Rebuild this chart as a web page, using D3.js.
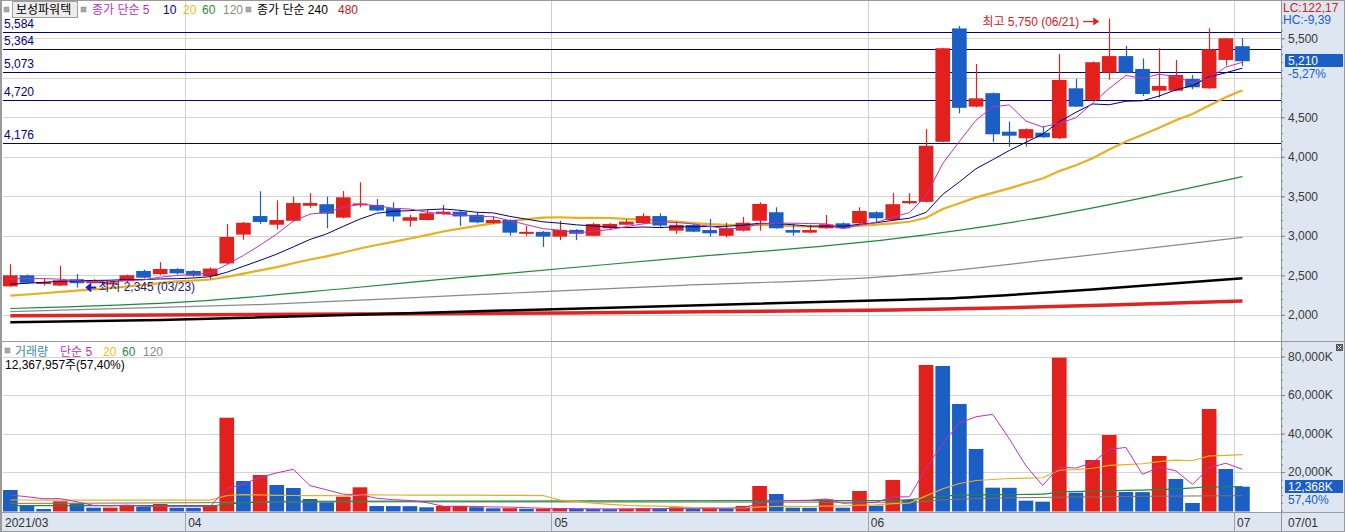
<!DOCTYPE html>
<html><head><meta charset="utf-8">
<script src="https://cdn.jsdelivr.net/npm/d3@7"></script>
<style>
html,body{margin:0;padding:0;background:#fff;overflow:hidden;}
svg{display:block;}
text{font-family:"Liberation Sans","Noto Sans CJK KR",sans-serif;font-size:12px;}
</style></head><body>
<svg id="c" width="1345" height="532"></svg>
<script>
// ---------------- DATA ----------------
const dates = [
"03/17","03/18","03/19","03/22","03/23","03/24","03/25","03/26","03/29","03/30","03/31",
"04/01","04/02","04/05","04/06","04/07","04/08","04/09","04/12","04/13","04/14","04/15","04/16","04/19","04/20","04/21","04/22","04/23","04/26","04/27","04/28","04/29","04/30",
"05/03","05/04","05/06","05/07","05/10","05/11","05/12","05/13","05/14","05/17","05/18","05/20","05/21","05/24","05/25","05/26","05/27","05/28","05/31",
"06/01","06/02","06/03","06/04","06/07","06/08","06/09","06/10","06/11","06/14","06/15","06/16","06/17","06/18","06/21","06/22","06/23","06/24","06/25","06/28","06/29","06/30",
"07/01"];
const opens = [2360,2500,2400,2370,2450,2420,2400,2425,2555,2515,2580,
2555,2490,2650,3015,3250,3140,3190,3380,3400,3230,3395,3390,3350,3190,3200,3275,3305,3265,3160,3200,3025,3050,
2990,3075,3000,3095,3140,3160,3250,3065,3137,3073,3000,3065,3190,3298,3073,3040,3095,3158,3158,
3298,3200,3412,3430,4190,5625,4635,4805,4318,4235,4305,4235,4867,4720,5065,5275,5112,4837,4837,4985,4867,5226,
5400];
const highs = [2640,2510,2460,2620,2515,2450,2430,2510,2570,2665,2590,
2565,2600,3150,3175,3565,3450,3495,3540,3495,3567,3677,3465,3425,3265,3330,3390,3315,3300,3250,3210,3128,3060,
3190,3085,3165,3160,3210,3285,3285,3180,3150,3213,3165,3240,3425,3360,3158,3140,3263,3170,3360,
3310,3545,3540,4350,5380,5655,5175,4815,4445,4360,4390,5300,4985,5205,5750,5405,5245,5374,5226,5036,5627,5505,
5500];
const lows = [2355,2395,2370,2365,2345,2400,2385,2410,2460,2505,2510,
2480,2450,2640,2950,3150,3080,3180,3355,3095,3220,3360,3310,3180,3115,3195,3265,3125,3160,3150,3000,3000,2860,
2945,2945,2995,3080,3130,3145,3095,3023,3045,2990,2980,3055,3065,3090,3000,3035,3090,3090,3150,
3160,3190,3400,3420,4185,4550,4625,4190,4128,4130,4240,4225,4630,4710,4975,5055,4770,4750,4830,4855,4860,5155,
5150];
const closes = [2500,2405,2415,2437,2400,2425,2410,2500,2470,2580,2525,
2495,2585,2985,3165,3175,3200,3415,3415,3280,3487,3410,3320,3245,3235,3285,3305,3245,3170,3200,3040,3050,2990,
3075,3025,3150,3150,3180,3250,3130,3137,3052,3032,3095,3165,3403,3095,3040,3073,3145,3095,3314,
3222,3400,3440,4140,5374,4620,4740,4285,4267,4350,4247,4973,4635,5197,5275,5065,4795,4897,5036,4880,5361,5500,
5210];
// volume in thousand shares
const volumes = [10650,2500,780,4780,3740,1450,1500,2500,1970,3380,1450,
1400,2500,48200,15330,18440,13250,11700,5970,4260,7170,12050,2340,2300,2250,1660,2340,2400,1700,1140,1200,900,950,
1000,800,750,700,900,1150,1100,1650,900,1150,950,2400,12730,8570,1460,1400,5800,1450,10130,
2500,15850,5450,75600,75070,55330,31950,11850,11800,5100,4590,79400,9260,26230,39220,9610,9550,28310,16360,3900,52730,21560,
12368];
// price moving averages
const ma5 = [2454,2459,2458,2451,2431,2416,2417,2434,2441,2477,2497,2514,2531,2634,2751,2881,3022,3188,3274,3297,3359,3401,3382,3348,3339,3299,3278,3263,3248,3241,3192,3141,3090,3071,3036,3058,3078,3116,3151,3172,3169,3150,3120,3089,3096,3149,3158,3160,3155,3151,3090,3133,3170,3235,3294,3503,3915,4195,4463,4632,4657,4452,4378,4424,4494,4680,4865,5029,4993,5046,5014,4935,4994,5135,5197];
const ma10 = [2388,2399,2412,2424,2429,2435,2438,2446,2446,2454,2457,2466,2483,2538,2614,2689,2768,2860,2954,3024,3120,3212,3285,3311,3318,3329,3340,3323,3298,3290,3246,3210,3177,3160,3139,3125,3110,3103,3111,3104,3114,3114,3118,3120,3134,3159,3154,3140,3122,3124,3120,3146,3165,3195,3223,3296,3524,3682,3849,3963,4080,4184,4286,4444,4563,4669,4659,4703,4709,4770,4847,4900,5011,5064,5122];
const ma20 = [2242,2257,2273,2290,2306,2322,2338,2358,2377,2401,2422,2432,2447,2481,2521,2562,2603,2653,2700,2739,2788,2839,2884,2924,2966,3009,3054,3091,3126,3157,3183,3211,3231,3235,3228,3227,3225,3213,3205,3197,3180,3162,3147,3140,3136,3142,3132,3121,3117,3114,3117,3130,3141,3158,3178,3228,3339,3411,3486,3543,3600,3665,3726,3819,3893,3983,4092,4193,4279,4367,4464,4542,4649,4754,4842];
// long averages: [candle index, value] read at points along the line
const ma60Pts = [[0,2080],[11,2170],[20,2330],[27,2470],[40,2715],[53,2960],[61,3200],[74,3750]];
const ma120Pts = [[0,2040],[15,2130],[27,2245],[40,2370],[53,2490],[63,2710],[74,2981]];
const ma240Pts = [[0,1905],[9,1934],[27,2039],[53,2187],[56,2205],[60,2250],[65,2320],[70,2400],[74,2462]];
const ma480Pts = [[0,1989],[27,2015],[53,2061],[60,2090],[67,2130],[74,2175]];
// volume moving averages
const vma5 = [8050,7150,6106,6142,4490,2650,2450,2794,2232,2160,2160,2140,2140,11386,13776,17174,19544,21384,12938,10724,8470,8230,6358,5624,5222,4120,2178,2190,2070,1848,1756,1468,1178,1038,970,880,840,830,860,920,1100,1140,1190,1150,1410,3626,5160,5222,5312,5992,3736,4048,4256,7146,7076,21906,34894,45460,48680,49960,37200,23206,13058,22548,22030,24916,31740,32744,18774,22584,20610,13546,22170,24572,21384];
const vma20 = [5450,5450,5400,5400,5400,5400,5400,5400,5400,5400,5400,5400,5400,7700,8200,8100,7900,7800,7750,7788,7614,8091,8169,8045,7971,7981,8023,8018,8005,7893,7880,7855,7778,5418,4691,3807,3179,2639,2398,2240,1964,1407,1347,1280,1287,1841,2152,2105,2090,2323,2336,2797,2875,3617,3850,7592,11311,14032,15572,16110,16617,16827,16999,20922,21265,21940,23472,23880,24287,25413,26158,25847,28358,28644,28989];
const vma60Pts = [[0,2500],[12,2550],[13,3350],[17,4800],[35,4950],[53,5200],[55,6400],[57,8000],[62,8500],[63,9600],[66,10200],[70,11200],[72,12200],[74,12400]];
const vma120Pts = [[0,3700],[13,4100],[20,4500],[54,4300],[56,5500],[58,6200],[63,6900],[74,7700]];
// labels
const stockName = "보성파워텍";
const levelValues = [5584,5364,5073,4720,4176];
const priceTicks = [2000,2500,3000,3500,4000,4500,5500];
const priceGrid = [2000,2500,3000,3500,4000,4500,5000,5500];
const volTicks = [20000,40000,60000,80000];
const monthLabels = [["2021/03","03/17"],["04","04/01"],["05","05/03"],["06","06/01"],["07","07/01"]];
const highMark = {label:"최고 5,750 (06/21)", date:"06/21", value:5750};
const lowMark = {label:"최저 2,345 (03/23)", date:"03/23", value:2345};
const lastPrice = "5,210", lastPct = "-5,27%";
const lastVol = "12,368K", lastVolPct = "57,40%";
const volInfo = "12,367,957주(57,40%)";
const lcText = "LC:122,17", hcText = "HC:-9,39";
const lastDate = "07/01";

// ---------------- LAYOUT ----------------
const W = 1345, H = 532;
const plotL = 3, plotR = 1281;
const priceTop = 1, priceBot = 340;
const volTop = 343, volBot = 512;
const RED = "#e3211c", BLUE = "#1b5ec6", NAVY = "#000080";
const C5 = "#c030c0", C10 = "#000080", C20 = "#e8b020", C60 = "#1e8a3c", C120 = "#8a8a8a";
const svg = d3.select("#c");

const step = 16.65;
const X = d3.scaleBand().domain(dates).range([plotL, plotL + step * dates.length]).padding(0);
const bw = X.step() - 2;
const cx = d => X(d) + bw / 2;
const Y = d3.scaleLinear().domain([2000, 5500]).range([314.8, 38.3]);
const YV = d3.scaleLinear().domain([0, 80000]).range([510.5, 356.5]);

// backgrounds
svg.append("rect").attr("x",0).attr("y",0).attr("width",W).attr("height",H).attr("fill","#fff");
svg.append("rect").attr("x",plotR).attr("y",0).attr("width",W-plotR).attr("height",H).attr("fill","#dde6f1");
svg.append("rect").attr("x",0).attr("y",volBot).attr("width",W).attr("height",H-volBot).attr("fill","#dde6f1");

svg.append("clipPath").attr("id","cp").append("rect").attr("x",plotL).attr("y",priceTop).attr("width",plotR-plotL).attr("height",priceBot-priceTop);
svg.append("clipPath").attr("id","cv").append("rect").attr("x",plotL).attr("y",volTop).attr("width",plotR-plotL).attr("height",volBot-volTop);

// grid
const grid = svg.append("g").attr("shape-rendering","crispEdges");
grid.selectAll(".pg").data(priceGrid).join("line")
  .attr("x1",plotL).attr("x2",plotR).attr("y1",d=>Math.round(Y(d))+0.5).attr("y2",d=>Math.round(Y(d))+0.5)
  .attr("stroke","#d4d4d4");
grid.selectAll(".vg").data(volTicks).join("line")
  .attr("x1",plotL).attr("x2",plotR).attr("y1",d=>Math.round(YV(d))+0.5).attr("y2",d=>Math.round(YV(d))+0.5)
  .attr("stroke","#d4d4d4");
grid.selectAll(".mg").data(monthLabels.slice(1)).join("line")
  .attr("x1",d=>Math.round(X(d[1])-1)+0.5).attr("x2",d=>Math.round(X(d[1])-1)+0.5)
  .attr("y1",priceTop).attr("y2",volBot).attr("stroke","#cfcfcf");

// price level lines
const lev = svg.append("g");
lev.selectAll("line").data(levelValues).join("line")
  .attr("x1",plotL).attr("x2",plotR).attr("y1",d=>Math.round(Y(d))+0.5).attr("y2",d=>Math.round(Y(d))+0.5)
  .attr("stroke",NAVY).attr("stroke-width",1).attr("shape-rendering","crispEdges");
lev.selectAll("text").data(levelValues).join("text")
  .attr("x",4).attr("y",d=>Y(d)-4).attr("fill",NAVY).text(d=>d3.format(",")(d));

// long moving averages (price)
const gP = svg.append("g").attr("clip-path","url(#cp)");
const lineIdx = d3.line().x(d=>cx(dates[d[0]])).y(d=>Y(d[1])).curve(d3.curveMonotoneX);
const lineArr = d3.line().x((d,i)=>cx(dates[i])).y(d=>Y(d));
gP.append("path").attr("d",lineIdx(ma480Pts)).attr("fill","none").attr("stroke","#e02424").attr("stroke-width",3.5);
gP.append("path").attr("d",lineIdx(ma240Pts)).attr("fill","none").attr("stroke","#000").attr("stroke-width",2.5);
gP.append("path").attr("d",lineIdx(ma120Pts)).attr("fill","none").attr("stroke",C120).attr("stroke-width",1.2);
gP.append("path").attr("d",lineIdx(ma60Pts)).attr("fill","none").attr("stroke",C60).attr("stroke-width",1.2);
gP.append("path").attr("d",lineArr(ma20)).attr("fill","none").attr("stroke",C20).attr("stroke-width",2.2);

// candles
const candles = gP.append("g").selectAll("g").data(dates).join("g");
candles.append("line")
  .attr("x1",d=>Math.round(cx(d))+0.5).attr("x2",d=>Math.round(cx(d))+0.5)
  .attr("y1",(d,i)=>Y(highs[i])).attr("y2",(d,i)=>Y(lows[i]))
  .attr("stroke",(d,i)=>closes[i]>=opens[i]?RED:BLUE).attr("stroke-width",1.2);
candles.append("rect")
  .attr("x",d=>X(d)).attr("width",bw)
  .attr("y",(d,i)=>Y(Math.max(opens[i],closes[i])))
  .attr("height",(d,i)=>Math.max(2,Math.abs(Y(opens[i])-Y(closes[i]))))
  .attr("fill",(d,i)=>closes[i]>=opens[i]?RED:BLUE);

gP.append("path").attr("d",lineArr(ma10)).attr("fill","none").attr("stroke",C10).attr("stroke-width",1);
gP.append("path").attr("d",lineArr(ma5)).attr("fill","none").attr("stroke",C5).attr("stroke-width",1);

// high / low annotations
const hx = cx(highMark.date) - 10, hy = Y(highMark.value) + 3;
svg.append("path").attr("d",`M${hx-16},${hy} L${hx-4},${hy}`).attr("stroke",RED).attr("stroke-width",1.3);
svg.append("path").attr("d",`M${hx},${hy} L${hx-6},${hy-4} L${hx-6},${hy+4} Z`).attr("fill",RED);
svg.append("text").attr("x",hx-20).attr("y",hy+4).attr("text-anchor","end").attr("fill","#d42020").text(highMark.label);
const lx = X(lowMark.date) + bw + 1, ly = Y(lowMark.value);
svg.append("path").attr("d",`M${lx},${ly} L${lx+6},${ly-5} L${lx+6},${ly+5} Z`).attr("fill","#1020d0");
svg.append("path").attr("d",`M${lx+5},${ly} L${lx+11},${ly}`).attr("stroke","#1020d0").attr("stroke-width",2);
svg.append("text").attr("x",lx+13).attr("y",ly+3).attr("fill","#1a1a70").text(lowMark.label);

// volume
const gV = svg.append("g").attr("clip-path","url(#cv)");
gV.selectAll("rect").data(dates).join("rect")
  .attr("x",d=>X(d)).attr("width",bw)
  .attr("y",(d,i)=>YV(volumes[i])).attr("height",(d,i)=>YV(0)-YV(volumes[i])+1)
  .attr("fill",(d,i)=>(i>0 && volumes[i]>volumes[i-1])?RED:BLUE);
const vIdx = d3.line().x(d=>cx(dates[d[0]])).y(d=>YV(d[1])).curve(d3.curveMonotoneX);
const vArr = d3.line().x((d,i)=>cx(dates[i])).y(d=>YV(d));
gV.append("path").attr("d",vIdx(vma120Pts)).attr("fill","none").attr("stroke","#807060").attr("stroke-width",1);
gV.append("path").attr("d",vIdx(vma60Pts)).attr("fill","none").attr("stroke",C60).attr("stroke-width",1.2);
gV.append("path").attr("d",vArr(vma20)).attr("fill","none").attr("stroke","#e8b020").attr("stroke-width",1.2);
gV.append("path").attr("d",vArr(vma5)).attr("fill","none").attr("stroke",C5).attr("stroke-width",1);

// frames
const fr = svg.append("g").attr("shape-rendering","crispEdges").attr("fill","none");
fr.append("rect").attr("x",0.5).attr("y",0.5).attr("width",W-1).attr("height",H-1).attr("stroke","#9a9a9a");
fr.append("line").attr("x1",1.5).attr("x2",1.5).attr("y1",0).attr("y2",H).attr("stroke","#9a9a9a");
fr.append("line").attr("x1",0).attr("x2",W).attr("y1",341.5).attr("y2",341.5).attr("stroke","#9a9a9a");
fr.append("line").attr("x1",0).attr("x2",W).attr("y1",volBot+0.5).attr("y2",volBot+0.5).attr("stroke","#9a9a9a");
fr.append("line").attr("x1",plotR+0.5).attr("x2",plotR+0.5).attr("y1",0).attr("y2",H).attr("stroke","#8a96a6");

// axes
const axP = d3.axisRight(Y).tickValues(priceTicks).tickSize(4).tickPadding(3).tickFormat(d3.format(","));
svg.append("g").attr("transform",`translate(${plotR},0)`).call(axP);
const axPm = d3.axisRight(Y).tickValues(d3.range(1800,5800,100)).tickSize(2).tickFormat("");
svg.append("g").attr("transform",`translate(${plotR},0)`).call(axPm);
const axV = d3.axisRight(YV).tickValues(volTicks).tickSize(4).tickPadding(3).tickFormat(d=>d3.format(",")(d)+"K");
svg.append("g").attr("transform",`translate(${plotR},0)`).call(axV);
const axVm = d3.axisRight(YV).tickValues(d3.range(0,88000,4000)).tickSize(2).tickFormat("");
svg.append("g").attr("transform",`translate(${plotR},0)`).call(axVm);
svg.selectAll(".domain").remove();
svg.selectAll(".tick line").attr("stroke","#7a8696");
svg.selectAll(".tick text").attr("fill","#3a3a3a").attr("font-size","12px");
svg.selectAll(".tick").filter(function(){const t=d3.select(this).attr("transform");const yv=+t.match(/,([-\d.]+)/)[1];return yv<2||yv>volBot||(yv>priceBot-1&&yv<volTop+2);}).remove();

// last-price boxes
svg.append("rect").attr("x",1285).attr("y",54).attr("width",58).attr("height",13).attr("fill","#1b5ec6");
svg.append("text").attr("x",1288).attr("y",65).attr("fill","#fff").text(lastPrice);
svg.append("text").attr("x",1288).attr("y",78).attr("fill","#1b5ec6").attr("font-size","11px").text(lastPct);
svg.append("rect").attr("x",1285).attr("y",480).attr("width",58).attr("height",13).attr("fill","#1b5ec6");
svg.append("text").attr("x",1288).attr("y",490.5).attr("fill","#fff").attr("font-size","11px").text(lastVol);
svg.append("text").attr("x",1288).attr("y",504).attr("fill","#1b5ec6").attr("font-size","11px").text(lastVolPct);
svg.append("text").attr("x",1283).attr("y",12).attr("fill","#d42020").text(lcText);
svg.append("text").attr("x",1283).attr("y",24).attr("fill","#1b5ec6").text(hcText);
// close icon
svg.append("rect").attr("x",1336).attr("y",344).attr("width",7).attr("height",7).attr("fill","#555");
svg.append("path").attr("d","M1337.5,345.5 L1341.5,349.5 M1341.5,345.5 L1337.5,349.5").attr("stroke","#fff").attr("stroke-width",1);

// date axis
svg.selectAll(".ml").data(monthLabels).join("text")
  .attr("x",(d,i)=>i===0?5:X(d[1])+2).attr("y",527).attr("fill","#333").text(d=>d[0]);
svg.selectAll(".msep").data(monthLabels.slice(1)).join("line")
  .attr("x1",d=>Math.round(X(d[1])-1)+0.5).attr("x2",d=>Math.round(X(d[1])-1)+0.5)
  .attr("y1",volBot).attr("y2",H).attr("stroke","#9aa6b6").attr("shape-rendering","crispEdges");
svg.append("text").attr("x",1288).attr("y",527).attr("fill","#333").text(lastDate);

// top legend
function sq(x,y){svg.append("rect").attr("x",x).attr("y",y).attr("width",5).attr("height",5).attr("fill","#a8a8a8").attr("stroke","#888").attr("stroke-width",0.5);}
sq(4,7);
svg.append("rect").attr("x",12.5).attr("y",1.5).attr("width",65).attr("height",16).attr("fill","#ececec").attr("stroke","#a0a0a0");
svg.append("text").attr("x",16).attr("y",14).attr("fill","#000").text(stockName);
sq(81,7);
const leg1 = [["종가 단순 5",92,C5],["10",163,C10],["20",183,"#e8c020"],["60",202,C60],["120",223,C120]];
svg.selectAll(".l1").data(leg1).join("text").attr("x",d=>d[1]).attr("y",14).attr("fill",d=>d[2]).text(d=>d[0]);
sq(246,7);
svg.append("text").attr("x",257).attr("y",14).attr("fill","#000").text("종가 단순 240");
svg.append("text").attr("x",338).attr("y",14).attr("fill","#c02020").text("480");
// volume legend
sq(5,348);
const leg2 = [["거래량",15,"#3a8ab0"],["단순 5",60,C5],["20",103,"#e8c020"],["60",122,C60],["120",143,C120]];
svg.selectAll(".l2").data(leg2).join("text").attr("x",d=>d[1]).attr("y",356).attr("fill",d=>d[2]).text(d=>d[0]);
svg.append("text").attr("x",5).attr("y",369).attr("fill","#000").text(volInfo);
</script>
</body></html>
